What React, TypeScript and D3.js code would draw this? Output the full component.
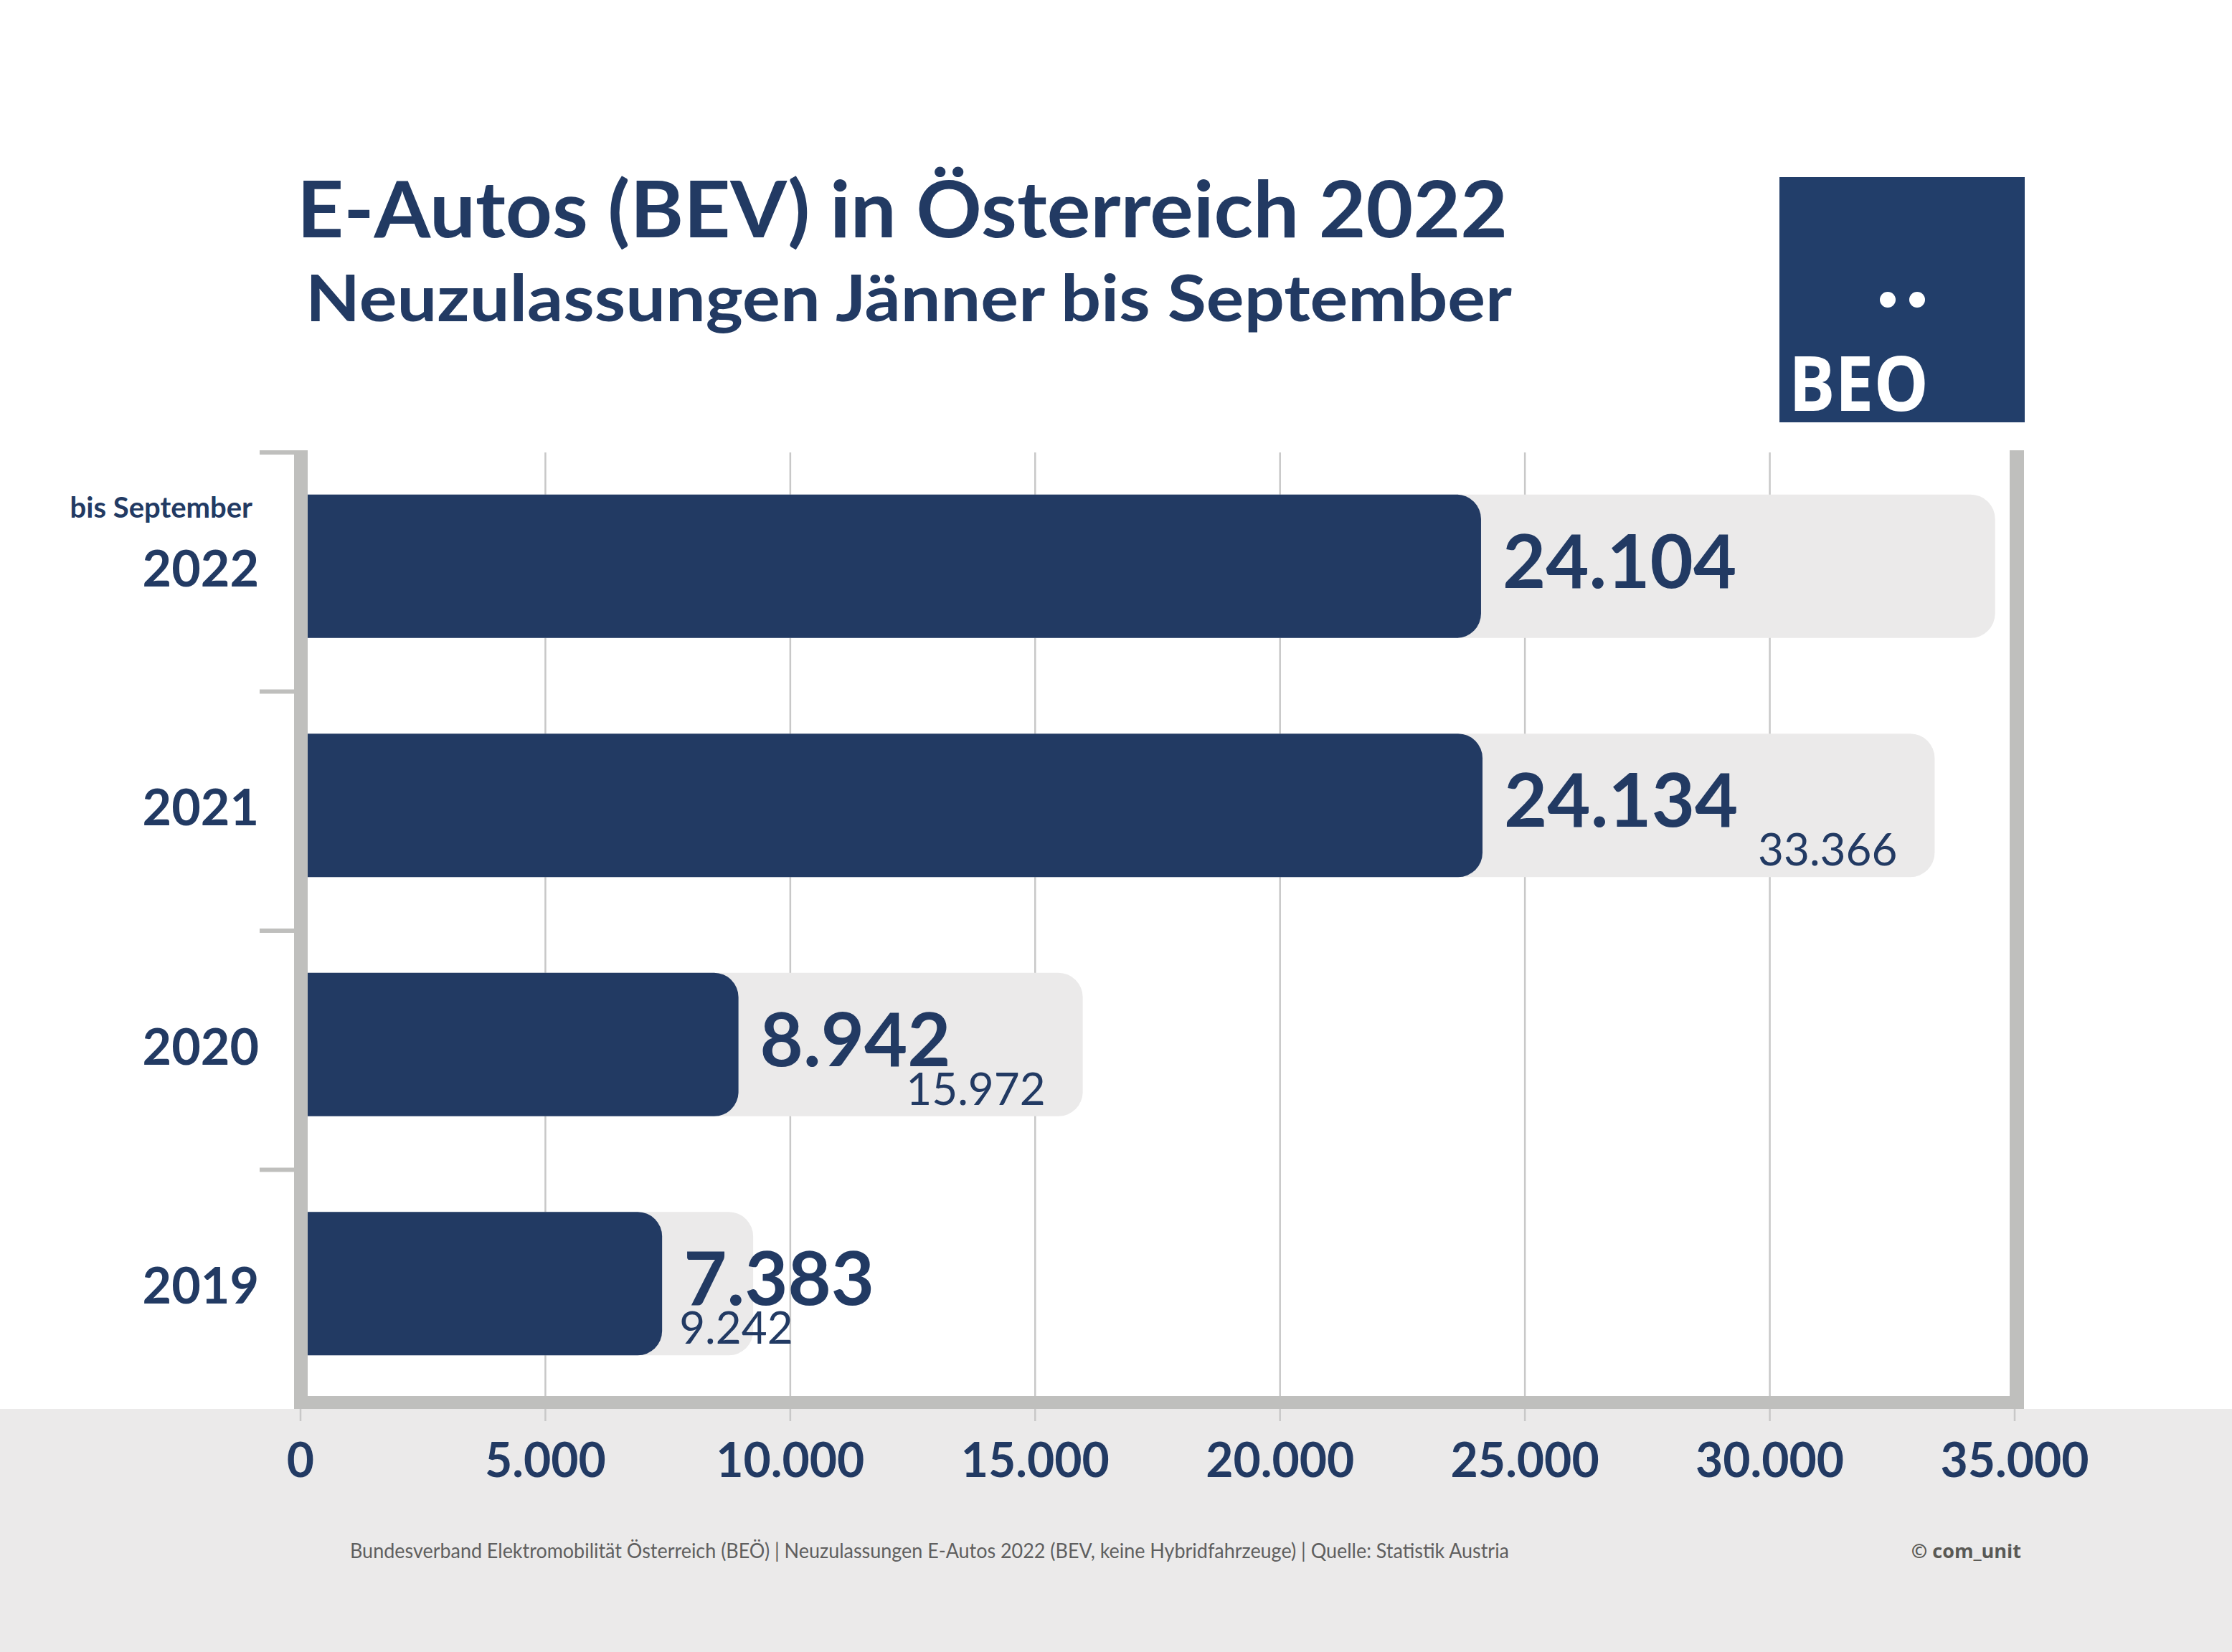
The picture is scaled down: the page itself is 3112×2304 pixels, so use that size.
import React from 'react'
import * as d3 from 'd3'

// Neuzulassungen E-Autos (BEV), Jänner bis September vs. Gesamtjahr
const years = ['2022', '2021', '2020', '2019']
const yearNotes = ['bis September', '', '', '']
const ytdValues = [24104, 24134, 8942, 7383]
// 2022: Balken ohne Beschriftung, Wert aus dem Bild geschätzt
const fullYearValues = [34600, 33366, 15972, 9242]
const showFullYearLabel = [false, true, true, true]
const xTicks = [0, 5000, 10000, 15000, 20000, 25000, 30000, 35000]

const title = 'E-Autos (BEV) in Österreich 2022'
const subtitle = 'Neuzulassungen Jänner bis September'
const footer =
  'Bundesverband Elektromobilität Österreich (BEÖ) | Neuzulassungen E-Autos 2022 (BEV, keine Hybridfahrzeuge) | Quelle: Statistik Austria'
const credit = '© com_unit'

const W = 3112
const H = 2304
const navy = '#223a63'
const frameGray = '#bfbfbd'
const lightGray = '#ebeaea'
const gridGray = '#c8c8c8'
const fontCal = 'Lato, "Open Sans", sans-serif'

const de = d3.formatLocale({ decimal: ',', thousands: '.', grouping: [3], currency: ['', '€'] })
const fmt = de.format(',d')

const plotTop = 631
const plotBottom = 1965

const x = d3.scaleLinear().domain([0, 35000]).range([419, 2809])
const y = d3
  .scaleBand<string>()
  .domain(years)
  .range([plotTop, plotBottom])
  .paddingInner(0.4)
  .paddingOuter(0.2)
  .align(0.44)

const roundRight = (x0: number, x1: number, y0: number, h: number, r: number) => {
  const y1 = y0 + h
  return `M${x0},${y0}H${x1 - r}A${r},${r} 0 0 1 ${x1},${y0 + r}V${y1 - r}A${r},${r} 0 0 1 ${x1 - r},${y1}H${x0}Z`
}

const App = () => {
  const bw = y.bandwidth()
  const bigSize = 104
  const smallSize = 62
  const frameL = x(0) - 9
  const frameR = x(35000) - 7
  const rowStep = (plotBottom - plotTop) / years.length

  return (
    <svg width={W} height={H} style={{ position: 'absolute', left: 0, top: 0, background: '#fff' }}>
      {/* Titel */}
      <text x={414} y={331} fill={navy} fontFamily={fontCal} fontWeight={700} fontSize={110} textLength={1688} lengthAdjust="spacingAndGlyphs">
        {title}
      </text>
      <text x={426} y={448} fill={navy} fontFamily={fontCal} fontWeight={700} fontSize={90} textLength={1682} lengthAdjust="spacingAndGlyphs">
        {subtitle}
      </text>

      {/* Logo */}
      <rect x={2481} y={247} width={342} height={342} fill="#223e6a" />
      <circle cx={2632} cy={418} r={11} fill="#fff" />
      <circle cx={2673} cy={418} r={11} fill="#fff" />
      <text x={2494} y={573} fill="#fff" fontFamily='"Open Sans", sans-serif' fontWeight={700} fontSize={106} textLength={195} lengthAdjust="spacingAndGlyphs">
        BEO
      </text>

      {/* Fußbereich */}
      <rect x={0} y={plotBottom} width={W} height={H - plotBottom} fill={lightGray} />

      {/* Gitterlinien */}
      {xTicks.map((t) => (
        <line key={t} x1={x(t)} x2={x(t)} y1={plotTop} y2={1982} stroke={gridGray} strokeWidth={2.5} />
      ))}

      {/* Balken */}
      {years.map((yr, i) => {
        const y0 = y(yr) as number
        return (
          <g key={yr}>
            <path d={roundRight(x(0), x(fullYearValues[i]), y0, bw, 34)} fill={lightGray} />
            <path d={roundRight(x(0), x(ytdValues[i]), y0, bw, 34)} fill={navy} />
          </g>
        )
      })}

      {/* Rahmen */}
      <rect x={frameL} y={628} width={19} height={plotBottom - 628} fill={frameGray} />
      <rect x={frameR} y={628} width={20} height={plotBottom - 628} fill={frameGray} />
      <rect x={frameL} y={1947} width={frameR + 20 - frameL} height={18} fill={frameGray} />
      {years.map((yr, i) => (
        <rect key={yr} x={362} y={plotTop + i * rowStep - 3} width={frameL - 362} height={6} fill={frameGray} />
      ))}

      {/* Wertbeschriftungen */}
      {years.map((yr, i) => {
        const y0 = y(yr) as number
        const cy = y0 + bw / 2
        const darkEnd = x(ytdValues[i])
        const grayEnd = x(fullYearValues[i])
        const label = fmt(fullYearValues[i])
        const estW = label.length * 0.53 * smallSize
        const rightX = grayEnd - 52
        const fitsRight = rightX - estW > darkEnd + 22
        return (
          <g key={yr} fill={navy} fontFamily={fontCal}>
            <text x={darkEnd + 30} y={cy + 30} fontWeight={700} fontSize={bigSize}>
              {fmt(ytdValues[i])}
            </text>
            {showFullYearLabel[i] && (
              <text
                x={fitsRight ? rightX : darkEnd + 24}
                y={y0 + bw - 16}
                textAnchor={fitsRight ? 'end' : 'start'}
                fontWeight={400}
                fontSize={smallSize}
              >
                {label}
              </text>
            )}
          </g>
        )
      })}

      {/* Jahre */}
      {years.map((yr, i) => {
        const cy = (y(yr) as number) + bw / 2
        return (
          <g key={yr} fill={navy} fontFamily={fontCal} fontWeight={700} textAnchor="end">
            <text x={361} y={cy + 28} fontSize={70}>
              {yr}
            </text>
            {yearNotes[i] && (
              <text x={352} y={cy - 68} fontSize={40}>
                {yearNotes[i]}
              </text>
            )}
          </g>
        )
      })}

      {/* x-Achse */}
      {xTicks.map((t) => (
        <text key={t} x={x(t)} y={2060} fill={navy} fontFamily={fontCal} fontWeight={700} fontSize={66} textAnchor="middle">
          {fmt(t)}
        </text>
      ))}

      <text x={488} y={2173} fill="#5f5f5f" fontFamily={fontCal} fontSize={28} textLength={1616} lengthAdjust="spacingAndGlyphs">
        {footer}
      </text>
      <text x={2818} y={2173} fill="#595955" fontFamily='"Open Sans", sans-serif' fontWeight={700} fontSize={27} textAnchor="end">
        {credit}
      </text>
    </svg>
  )
}

export default App
